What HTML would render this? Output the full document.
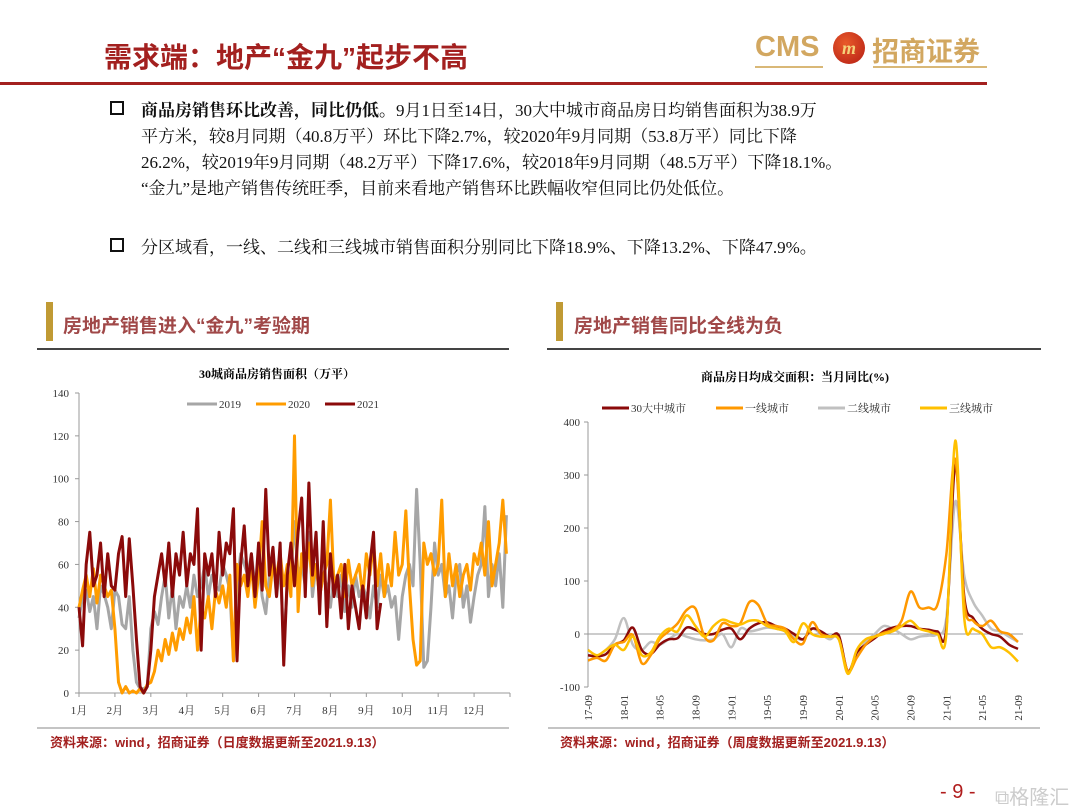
<!DOCTYPE html>
<html><head><meta charset="utf-8">
<style>
body{margin:0;width:1080px;height:810px;background:#fff;position:relative;overflow:hidden;font-family:"Liberation Serif","Noto Serif CJK SC",serif;}
.abs{position:absolute;white-space:nowrap;}
.p{font-size:17px;color:#111;left:141px;}
.sq{position:absolute;width:10px;height:10px;border:2px solid #111;left:110px;}
</style></head><body>
<div class="abs" style="left:104px;top:36px;font-family:'Liberation Sans','Noto Sans CJK SC',sans-serif;font-weight:bold;font-size:28px;color:#a3201f;">需求端：地产“金九”起步不高</div>
<div class="abs" style="left:755px;top:31px;font-family:'Liberation Sans',sans-serif;font-weight:bold;font-size:29px;color:#d2a760;">CMS</div>
<div class="abs" style="left:833px;top:32px;width:32px;height:32px;border-radius:50%;background:radial-gradient(circle at 40% 35%,#e85a2a,#b51d14);color:#f5d27a;font-size:18px;font-weight:bold;text-align:center;line-height:32px;font-style:italic;font-family:'Liberation Serif',serif;">m</div>
<div class="abs" style="left:872px;top:30px;font-family:'Noto Sans CJK SC',sans-serif;font-weight:bold;font-size:27px;color:#d2a760;">招商证券</div>
<div class="abs" style="left:755px;top:66px;width:68px;height:2px;background:#d9b877;"></div>
<div class="abs" style="left:873px;top:66px;width:114px;height:2px;background:#d9b877;"></div>
<div class="abs" style="left:0;top:82px;width:987px;height:3px;background:#a3201f;"></div>

<div class="sq" style="top:101px"></div>
<div class="abs p" style="top:96px"><b>商品房销售环比改善，同比仍低。</b>9月1日至14日，30大中城市商品房日均销售面积为38.9万</div>
<div class="abs p" style="top:122px">平方米，较8月同期（40.8万平）环比下降2.7%，较2020年9月同期（53.8万平）同比下降</div>
<div class="abs p" style="top:148px">26.2%，较2019年9月同期（48.2万平）下降17.6%，较2018年9月同期（48.5万平）下降18.1%。</div>
<div class="abs p" style="top:174px">“金九”是地产销售传统旺季，目前来看地产销售环比跌幅收窄但同比仍处低位。</div>
<div class="sq" style="top:238px"></div>
<div class="abs p" style="top:233px">分区域看，一线、二线和三线城市销售面积分别同比下降18.9%、下降13.2%、下降47.9%。</div>

<div class="abs" style="left:46px;top:302px;width:7px;height:39px;background:#c09a34;"></div>
<div class="abs" style="left:63px;top:311px;font-family:'Liberation Sans','Noto Sans CJK SC',sans-serif;font-weight:bold;font-size:19px;color:#a04848;">房地产销售进入“金九”考验期</div>
<div class="abs" style="left:37px;top:348px;width:472px;height:2px;background:#444;"></div>
<div class="abs" style="left:556px;top:302px;width:7px;height:39px;background:#c09a34;"></div>
<div class="abs" style="left:574px;top:311px;font-family:'Liberation Sans','Noto Sans CJK SC',sans-serif;font-weight:bold;font-size:19px;color:#a04848;">房地产销售同比全线为负</div>
<div class="abs" style="left:547px;top:348px;width:494px;height:2px;background:#444;"></div>

<svg class="abs" style="left:0;top:0" width="1080" height="810" id="charts"></svg>

<div class="abs" style="left:50px;top:732px;font-family:'Liberation Sans','Noto Sans CJK SC',sans-serif;font-weight:bold;font-size:13px;color:#a3201f;">资料来源：wind，招商证券（日度数据更新至2021.9.13）</div>
<div class="abs" style="left:560px;top:732px;font-family:'Liberation Sans','Noto Sans CJK SC',sans-serif;font-weight:bold;font-size:13px;color:#a3201f;">资料来源：wind，招商证券（周度数据更新至2021.9.13）</div>
<div class="abs" style="left:940px;top:781px;font-family:'Liberation Sans',sans-serif;font-size:20px;color:#b01c1c;">- 9 -</div>
<div class="abs" style="left:995px;top:781px;font-family:'Liberation Sans','Noto Sans CJK SC',sans-serif;font-size:20px;color:#ccc;">⧉格隆汇</div>

<script>
const months=["1月","2月","3月","4月","5月","6月","7月","8月","9月","10月","11月","12月"];
const leftTicks=[0,20,40,60,80,100,120,140];
const s2019=[35,45,48,38,45,30,50,46,40,30,48,45,32,30,45,20,5,2,2,3,30,38,32,45,55,35,50,30,45,40,50,40,55,45,50,60,45,55,50,48,60,55,48,15,50,65,60,55,65,50,60,45,37,55,65,45,60,23,50,55,80,55,60,50,75,45,60,45,55,50,40,55,45,55,38,50,40,55,45,50,45,35,50,40,55,45,50,40,45,25,45,55,60,50,95,60,12,15,40,70,55,60,45,50,35,55,60,40,50,33,45,55,60,87,45,60,50,65,40,83];
const s2020=[40,48,55,45,58,42,55,50,45,48,30,5,0,3,0,1,0,2,0,4,5,10,20,15,25,18,28,20,30,25,35,28,45,20,40,35,45,30,48,42,50,40,55,15,60,50,55,45,60,40,55,80,50,45,60,55,65,50,60,45,120,38,65,55,70,50,60,45,55,60,90,50,55,60,45,62,50,55,60,45,65,55,70,50,65,45,60,50,75,55,60,85,50,25,13,15,70,60,65,55,60,90,45,65,50,60,45,55,60,48,65,60,70,55,80,50,60,70,90,65];
const s2021=[40,22,60,75,50,55,70,45,65,50,48,65,73,45,72,50,25,3,0,3,20,45,55,65,50,70,45,65,55,75,50,65,60,86,20,65,55,65,45,75,55,70,65,86,15,60,78,50,65,45,70,48,95,55,68,45,70,13,55,70,50,75,91,45,98,55,75,37,80,31,65,45,55,35,60,30,50,40,30,50,35,60,75,30,42];
const rCats=["17-09","18-01","18-05","18-09","19-01","19-05","19-09","20-01","20-05","20-09","21-01","21-05","21-09"];
const rTicks=[-100,0,100,200,300,400];
const c30=[-40,-42,-38,-20,-12,12,-30,-38,-20,-10,-8,12,8,0,0,8,10,-10,10,20,22,15,10,0,-10,10,5,-5,-3,-70,-35,-20,-8,5,12,15,15,10,8,5,10,320,70,30,10,0,-5,-20,-28];
const c1=[-50,-45,-50,-20,-15,-2,-55,-40,-10,5,20,45,48,-5,-12,20,15,20,60,55,20,15,10,-10,-18,22,0,-5,-10,-70,-45,-20,-5,2,8,25,80,50,50,55,150,330,60,25,15,25,5,0,-15];
const c2=[-40,-42,-30,-10,30,-20,-30,-15,-20,-10,0,-5,-10,-12,-10,0,-25,10,5,8,12,10,5,-5,-10,10,0,-10,-5,-72,-40,-15,0,15,10,0,-10,-5,-3,0,30,250,110,60,35,10,5,-5,-15];
const c3=[-30,-40,-30,-20,-30,-5,-40,-35,-5,10,5,35,15,-5,15,27,22,18,25,25,15,10,5,-15,20,0,-5,-5,-10,-75,-30,-10,-5,0,5,15,25,10,5,0,0,365,30,10,0,-25,-25,-35,-52];

const svg=document.getElementById('charts');
const NS='http://www.w3.org/2000/svg';
function mk(t,a,txt){const e=document.createElementNS(NS,t);for(const k in a)e.setAttribute(k,a[k]);if(txt!==undefined)e.textContent=txt;svg.appendChild(e);return e;}
const SER='"Liberation Serif","Noto Serif CJK SC",serif';

// left chart
const LX0=79,LX1=510,LY0=693,LY1=393;
const lx=i=>LX0+(i/10)*(LX1-LX0)/12;
const ly=v=>LY0-(v/140)*(LY0-LY1);
let t=mk('text',{x:277,y:378,'text-anchor':'middle','font-size':12,'font-weight':'bold','font-family':SER},'30城商品房销售面积（万平）');


let ax=mk('line',{x1:LX0,y1:LY1,x2:LX0,y2:LY0,stroke:'#999'});


ax=mk('line',{x1:LX0,y1:LY0,x2:LX1,y2:LY0,stroke:'#999'});


leftTicks.forEach(v=>{mk('line',{x1:LX0-4,x2:LX0,y1:ly(v),y2:ly(v),stroke:'#999'});
 const e=mk('text',{x:LX0-10,y:ly(v)+4,'text-anchor':'end','font-size':11,'font-family':SER,fill:'#333'},v);
 
 });
months.forEach((m,i)=>{const x=LX0+i*(LX1-LX0)/12;mk('line',{x1:x,x2:x,y1:LY0,y2:LY0+4,stroke:'#999'});
 const e=mk('text',{x:x,y:714,'text-anchor':'middle','font-size':11,'font-family':SER,fill:'#333'},m);
 
 });
mk('line',{x1:LX1,x2:LX1,y1:LY0,y2:LY0+4,stroke:'#999'});
[[s2019,'#a6a6a6','series-2019'],[s2020,'#ff9c00','series-2020'],[s2021,'#8b0a0a','series-2021']].forEach(([d,c,n])=>{
 const e=mk('polyline',{points:d.map((v,i)=>lx(i)+','+ly(v)).join(' '),fill:'none',stroke:c,'stroke-width':3,'stroke-linejoin':'round'});
 
 });
[['2019','#a6a6a6',187],['2020','#ff9c00',256],['2021','#8b0a0a',325]].forEach(([l,c,x])=>{
 mk('line',{x1:x,x2:x+30,y1:404,y2:404,stroke:c,'stroke-width':3});
 const e=mk('text',{x:x+32,y:408,'font-size':11,'font-family':SER,fill:'#333'},l);
 
 });

// right chart
const RX0=588,RX1=1018,RY400=422,RYm100=687;
const rx=i=>RX0+i*(RX1-RX0)/48;
const ry=v=>RYm100-(v+100)/500*(RYm100-RY400);
t=mk('text',{x:795,y:381,'text-anchor':'middle','font-size':12,'font-weight':'bold','font-family':SER},'商品房日均成交面积：当月同比(%)');


ax=mk('line',{x1:RX0,y1:RY400,x2:RX0,y2:RYm100,stroke:'#999'});


ax=mk('line',{x1:RX0,y1:ry(0),x2:1023,y2:ry(0),stroke:'#999'});


rTicks.forEach(v=>{mk('line',{x1:RX0-4,x2:RX0,y1:ry(v),y2:ry(v),stroke:'#999'});
 const e=mk('text',{x:RX0-8,y:ry(v)+4,'text-anchor':'end','font-size':11,'font-family':SER,fill:'#333'},v);
 
 });
rCats.forEach((c,i)=>{const x=rx(i*4);
 const e=mk('text',{x:0,y:0,'text-anchor':'end','font-size':11,'font-family':SER,fill:'#333',transform:`translate(${x+4},695) rotate(-90)`},c);
 
 });
function smooth(d){const p=d.map((v,i)=>[rx(i),ry(v)]);let s='M'+p[0].join(',');
 for(let i=0;i<p.length-1;i++){const p0=p[i-1]||p[i],p1=p[i],p2=p[i+1],p3=p[i+2]||p2;
  s+=` C${p1[0]+(p2[0]-p0[0])/6},${p1[1]+(p2[1]-p0[1])/6} ${p2[0]-(p3[0]-p1[0])/6},${p2[1]-(p3[1]-p1[1])/6} ${p2[0]},${p2[1]}`;}return s;}
[[c2,'#c0c0c0','series-tier2'],[c30,'#8b0a0a','series-30-cities'],[c1,'#ff9800','series-tier1'],[c3,'#ffc000','series-tier3']].forEach(([d,c,n])=>{
 const e=mk('path',{d:smooth(d),fill:'none',stroke:c,'stroke-width':2.5});
 
 });
[['30大中城市','#8b0a0a',602],['一线城市','#ff9800',716],['二线城市','#c0c0c0',818],['三线城市','#ffc000',920]].forEach(([l,c,x])=>{
 mk('line',{x1:x,x2:x+27,y1:408,y2:408,stroke:c,'stroke-width':3});
 const e=mk('text',{x:x+29,y:412,'font-size':11,'font-family':SER,fill:'#333'},l);
 
 });
mk('line',{x1:37,x2:509,y1:728,y2:728,stroke:'#888'});
mk('line',{x1:548,x2:1040,y1:728,y2:728,stroke:'#888'});
</script>
</body></html>
